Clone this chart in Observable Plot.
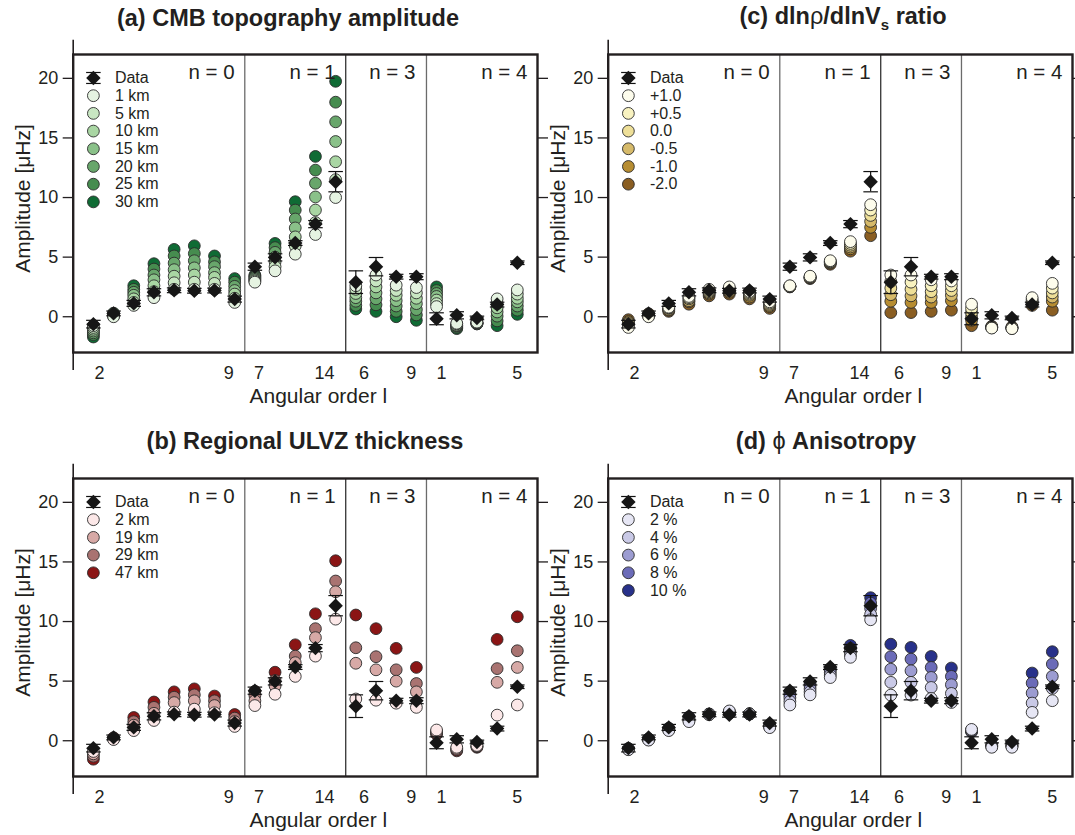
<!DOCTYPE html>
<html><head><meta charset="utf-8">
<script src="https://cdn.jsdelivr.net/npm/d3@7"></script>
<script src="https://cdn.jsdelivr.net/npm/@observablehq/plot@0.6"></script>
<style>
body{margin:0;background:#fff;overflow:hidden;}
#wrap{position:relative;width:1075px;height:835px;overflow:hidden;font-family:"Liberation Sans",Arial,Helvetica,sans-serif;color:#231f20;}
.panel{position:absolute;}
.title{position:absolute;font-weight:bold;font-size:23.5px;white-space:nowrap;transform:translate(-50%,-50%);}
.title .sym{font-weight:normal;}
</style></head><body><div id="wrap"></div>
<script>
// ---------- data ----------
const modes = ["0S2","0S3","0S4","0S5","0S6","0S7","0S8","0S9","1S7","1S8","1S9","1S10","1S14","3S6","3S7","3S8","3S9","4S1","4S2","4S3","4S4","4S5"];
const groupNames = ["n = 0","n = 1","n = 3","n = 4"];
const groupLabelPos = [7.0, 12.0, 15.95, 21.5];
const separators = [7.5, 12.5, 16.5];
const separatorColors = ["#6b6b6b", "#333333", "#6b6b6b"];
const xTickPos = [0.3, 6.7, 8.2, 11.45, 13.4, 15.75, 17.25, 21.0];
const xTickLabels = ["2","9","7","14","6","9","1","5"];
const yTicks = [0, 5, 10, 15, 20];

const dataAmp = [-0.62, 0.28, 1.12, 2.05, 2.22, 2.18, 2.2, 1.48, 4.2, 4.98, 6.18, 7.77, 11.33, 2.9, 4.2, 3.36, 3.36, -0.17, 0.12, -0.1, 1.02, 4.53];
const dataErr = [0.32, 0.2, 0.25, 0.3, 0.2, 0.2, 0.2, 0.25, 0.3, 0.3, 0.2, 0.3, 0.85, 0.95, 0.77, 0.2, 0.25, 0.5, 0.3, 0.15, 0.2, 0.15];

// (a) CMB topography
const topoLabels = ["1 km","5 km","10 km","15 km","20 km","25 km","30 km"];
const topoColors = ["#e5f3e1","#c8e6c2","#a9d6a3","#8ac189","#68a66b","#468c4f","#0f6b34"];
const topo1  = [-0.75, 0.0, 0.95, 1.6, 2.3, 2.3, 2.3, 1.2, 2.9, 3.85, 5.25, 6.9, 10.0, 2.6, 3.5, 2.65, 2.45, 0.85, -0.55, -0.45, 1.5, 2.25];
const topo5  = [-0.9, 0.05, 1.2, 2.1, 2.85, 2.9, 2.8, 1.55, 3.0, 4.2, 5.95, 7.9, 11.5, 2.3, 3.0, 2.2, 2.0, 1.1, -0.6, -0.5, 1.1, 1.9];
const topo10 = [-1.05, 0.1, 1.5, 2.6, 3.4, 3.5, 3.3, 1.9, 3.1, 4.6, 6.7, 8.95, 13.0, 1.95, 2.5, 1.8, 1.55, 1.4, -0.7, -0.5, 0.75, 1.55];
const topo15 = [-1.2, 0.15, 1.8, 3.1, 3.95, 4.1, 3.7, 2.2, 3.2, 5.0, 7.45, 10.05, 14.7, 1.6, 2.0, 1.35, 1.1, 1.7, -0.75, -0.55, 0.4, 1.25];
const topo20 = [-1.35, 0.2, 2.05, 3.5, 4.5, 4.7, 4.2, 2.55, 3.3, 5.4, 8.2, 11.2, 16.35, 1.3, 1.5, 0.9, 0.6, 1.95, -0.8, -0.55, 0.05, 0.9];
const topo25 = [-1.5, 0.25, 2.3, 4.0, 5.1, 5.3, 4.6, 2.9, 3.4, 5.8, 8.95, 12.3, 18.0, 0.95, 1.0, 0.45, 0.15, 2.2, -0.9, -0.6, -0.35, 0.55];
const topo30 = [-1.7, 0.3, 2.6, 4.45, 5.65, 5.95, 5.1, 3.2, 3.5, 6.15, 9.65, 13.45, 19.75, 0.65, 0.45, 0.0, -0.3, 2.5, -1.0, -0.6, -0.75, 0.2];

// (b) Regional ULVZ thickness
const ulvzLabels = ["2 km","19 km","29 km","47 km"];
const ulvzColors = ["#fce8e8","#d7a9a6","#a97371","#8b1515"];
const ulvz2  = [-0.9, 0.1, 0.85, 1.7, 2.4, 2.65, 2.35, 1.2, 2.95, 3.9, 5.4, 7.1, 10.2, 3.5, 3.4, 3.15, 2.8, 0.9, -0.55, -0.4, 2.15, 3.0];
const ulvz19 = [-1.1, 0.15, 1.3, 2.3, 3.2, 3.35, 2.95, 1.6, 3.35, 4.6, 6.55, 8.65, 12.5, 6.5, 5.95, 5.0, 4.1, 0.75, -0.65, -0.45, 4.9, 6.15];
const ulvz29 = [-1.3, 0.2, 1.6, 2.8, 3.65, 3.85, 3.35, 1.9, 3.8, 5.05, 7.1, 9.4, 13.4, 7.8, 7.05, 5.95, 4.8, 0.65, -0.75, -0.5, 6.05, 7.55];
const ulvz47 = [-1.55, 0.25, 1.95, 3.25, 4.1, 4.35, 3.75, 2.2, 4.15, 5.75, 8.05, 10.65, 15.1, 10.55, 9.4, 7.75, 6.15, 0.55, -0.85, -0.55, 8.5, 10.4];

// (c) dlnrho/dlnVs ratio
const rhoLabels = ["+1.0","+0.5","0.0","-0.5","-1.0","-2.0"];
const rhoColors = ["#fdfcec","#f8f2c0","#eedf98","#d6ba6a","#b78d32","#8a5e22"];
const rhoP10 = [-0.9, 0.0, 0.8, 1.7, 2.3, 2.5, 2.1, 1.25, 2.6, 3.4, 4.7, 6.3, 9.4, 3.5, 3.5, 3.1, 3.0, 1.05, -0.95, -1.0, 1.6, 2.8];
const rhoP05 = [-0.75, 0.05, 0.75, 1.6, 2.2, 2.35, 2.0, 1.15, 2.58, 3.35, 4.65, 6.15, 8.95, 2.95, 2.9, 2.6, 2.6, 0.7, -0.93, -0.98, 1.45, 2.4];
const rho00  = [-0.6, 0.1, 0.7, 1.5, 2.1, 2.25, 1.9, 1.05, 2.56, 3.3, 4.6, 6.0, 8.5, 2.4, 2.3, 2.1, 2.2, 0.35, -0.9, -0.95, 1.3, 2.0];
const rhoM05 = [-0.5, 0.15, 0.6, 1.35, 2.0, 2.15, 1.8, 0.95, 2.54, 3.3, 4.55, 5.85, 8.0, 1.85, 1.75, 1.65, 1.8, 0.0, -0.88, -0.93, 1.2, 1.65];
const rhoM10 = [-0.4, 0.2, 0.55, 1.25, 1.9, 2.05, 1.65, 0.85, 2.52, 3.25, 4.5, 5.7, 7.5, 1.3, 1.2, 1.2, 1.35, -0.3, -0.85, -0.9, 1.1, 1.3];
const rhoM20 = [-0.25, 0.25, 0.45, 1.05, 1.75, 1.9, 1.5, 0.7, 2.5, 3.2, 4.4, 5.5, 6.8, 0.35, 0.35, 0.45, 0.55, -0.75, -0.8, -0.85, 0.95, 0.55];

// (d) phi anisotropy
const anisoLabels = ["2 %","4 %","6 %","8 %","10 %"];
const anisoColors = ["#e6e6f4","#c9c9e6","#9c9cd1","#6b6bb8","#28318a"];
const aniso2  = [-0.75, 0.05, 0.85, 1.6, 2.2, 2.5, 2.25, 1.1, 3.0, 3.85, 5.3, 7.0, 10.15, 3.83, 3.83, 3.55, 3.21, 0.95, -0.55, -0.55, 2.38, 3.36];
const aniso4  = [-0.72, 0.08, 0.9, 1.7, 2.2, 2.45, 2.25, 1.15, 3.3, 4.1, 5.5, 7.25, 10.6, 4.9, 4.9, 4.47, 3.97, 0.9, -0.5, -0.5, 3.16, 4.39];
const aniso6  = [-0.7, 0.1, 0.95, 1.8, 2.22, 2.4, 2.25, 1.2, 3.6, 4.35, 5.7, 7.5, 11.1, 6.0, 5.87, 5.31, 4.7, 0.85, -0.45, -0.45, 4.0, 5.4];
const aniso8  = [-0.67, 0.12, 1.0, 1.9, 2.22, 2.35, 2.25, 1.25, 3.85, 4.6, 5.9, 7.75, 11.55, 7.05, 6.85, 6.15, 5.4, 0.8, -0.4, -0.4, 4.84, 6.43];
const aniso10 = [-0.65, 0.15, 1.05, 2.0, 2.25, 2.3, 2.25, 1.3, 4.1, 4.85, 6.05, 8.0, 12.0, 8.1, 7.83, 7.07, 6.1, 0.75, -0.35, -0.35, 5.68, 7.47];

// ---------- layout ----------
const W = 550, H = 410, ML = 72.7, MR = 13, MT = 54, MB = 58;
const yAxisLine = [23.2, -4.5];
const legendTop = 20.03, legendStep = 1.485;

const panels = [
  {left: 0, top: 0, title: "(a) CMB topography amplitude", tx: 288, ty: 18,
   labels: topoLabels, colors: topoColors, series: [topo1, topo5, topo10, topo15, topo20, topo25, topo30]},
  {left: 0, top: 423.7, title: "(b) Regional ULVZ thickness", tx: 305, ty: 441,
   labels: ulvzLabels, colors: ulvzColors, series: [ulvz2, ulvz19, ulvz29, ulvz47]},
  {left: 535.3, top: 0, titleHTML: '(c) dln<span class="sym">ρ</span>/dlnV<sub style="font-size:15px">s</sub> ratio', tx: 843, ty: 18,
   labels: rhoLabels, colors: rhoColors, series: [rhoP10, rhoP05, rho00, rhoM05, rhoM10, rhoM20]},
  {left: 535.3, top: 423.7, titleHTML: '(d) <span class="sym">ϕ</span> Anisotropy', tx: 826, ty: 441,
   labels: anisoLabels, colors: anisoColors, series: [aniso2, aniso4, aniso6, aniso8, aniso10]}
];

const FONT = '"Liberation Sans", Arial, Helvetica, sans-serif';
const INK = "#231f20";

function makePanel(p) {
  const obs = dataAmp.map((v, i) => ({i, v, lo: v - dataErr[i], hi: v + dataErr[i]}));
  const pts = [];
  // draw darkest first, lightest last
  for (let k = p.series.length - 1; k >= 0; k--) {
    p.series[k].forEach((v, i) => pts.push({i, v, c: p.colors[k]}));
  }
  const legend = [{label: "Data", row: 0}].concat(p.labels.map((l, k) => ({label: l, row: k + 1, c: p.colors[k]})));
  const legY = r => legendTop - r * legendStep;
  const capHalf = 0.36;
  return Plot.plot({
    width: W, height: H, marginLeft: ML, marginRight: MR, marginTop: MT, marginBottom: MB,
    x: {domain: [-1, 22], axis: null},
    y: {domain: [-3, 22], axis: null},
    color: {type: "identity"},
    style: {fontFamily: FONT, fontSize: "18px", color: INK, background: "transparent", overflow: "visible"},
    marks: [
      Plot.ruleX(separators, {stroke: (d, i) => separatorColors[i], strokeWidth: 1.3}),
      Plot.ruleX([-1], {y1: yAxisLine[0], y2: yAxisLine[1], stroke: INK, strokeWidth: 1.6, clip: false}),
      Plot.axisY({ticks: yTicks, anchor: "left", tickSize: 10, tickPadding: 5, fontSize: 18, label: null, strokeWidth: 1.3}),
      Plot.axisY({ticks: yTicks, anchor: "right", tickSize: 10, tickFormat: () => "", label: null, strokeWidth: 1.3}),
      // model predictions
      Plot.dot(pts, {x: "i", y: "v", r: 5.9, fill: "c", stroke: "#2b2b2b", strokeWidth: 0.9}),
      // observed data with error bars
      Plot.ruleX(obs, {x: "i", y1: "lo", y2: "hi", stroke: "#111", strokeWidth: 1.2}),
      Plot.link(obs, {x1: d => d.i - capHalf, x2: d => d.i + capHalf, y1: "lo", y2: "lo", stroke: "#111", strokeWidth: 1.2}),
      Plot.link(obs, {x1: d => d.i - capHalf, x2: d => d.i + capHalf, y1: "hi", y2: "hi", stroke: "#111", strokeWidth: 1.2}),
      Plot.dot(obs, {x: "i", y: "v", symbol: "diamond2", r: 6.5, fill: "#161616", stroke: "none"}),
      // legend
      Plot.ruleX([0], {y1: legY(0) - 0.46, y2: legY(0) + 0.46, stroke: "#111", strokeWidth: 1.2}),
      Plot.link([-1, 1], {x1: -capHalf, x2: capHalf, y1: s => legY(0) + s * 0.46, y2: s => legY(0) + s * 0.46, stroke: "#111", strokeWidth: 1.2}),
      Plot.dot([0], {x: 0, y: legY(0), symbol: "diamond2", r: 6.5, fill: "#161616", stroke: "none"}),
      Plot.dot(legend.slice(1), {x: 0, y: d => legY(d.row), r: 5.9, fill: "c", stroke: "#2b2b2b", strokeWidth: 0.9}),
      Plot.text(legend, {x: 0, y: d => legY(d.row), text: "label", dx: 21.5, textAnchor: "start", fontSize: 16, fill: INK}),
      // group labels
      Plot.text(groupNames, {x: (d, i) => groupLabelPos[i], text: d => d, frameAnchor: "top", dy: 18, textAnchor: "end", lineAnchor: "middle", fontSize: 20.5, fill: INK}),
      // x tick labels
      Plot.text(xTickLabels, {x: (d, i) => xTickPos[i], text: d => d, frameAnchor: "bottom", dy: 21, lineAnchor: "middle", fontSize: 18, fill: INK}),
      // axis labels
      Plot.text(["Angular order l"], {frameAnchor: "bottom", dx: 13, dy: 44, lineAnchor: "middle", textAnchor: "middle", fontSize: 21, fill: INK}),
      Plot.text(["Amplitude [μHz]"], {frameAnchor: "left", rotate: -90, dx: -50, dy: -5, textAnchor: "middle", lineAnchor: "middle", fontSize: 21, fill: INK}),
      Plot.frame({stroke: INK, strokeWidth: 2.4})
    ]
  });
}

const wrap = document.getElementById("wrap");
for (const p of panels) {
  const el = makePanel(p);
  el.classList.add("panel");
  el.style.left = p.left + "px";
  el.style.top = p.top + "px";
  wrap.appendChild(el);
  const t = document.createElement("div");
  t.className = "title";
  if (p.titleHTML) t.innerHTML = p.titleHTML; else t.textContent = p.title;
  t.style.left = p.tx + "px";
  t.style.top = p.ty + "px";
  wrap.appendChild(t);
}
</script></body></html>
